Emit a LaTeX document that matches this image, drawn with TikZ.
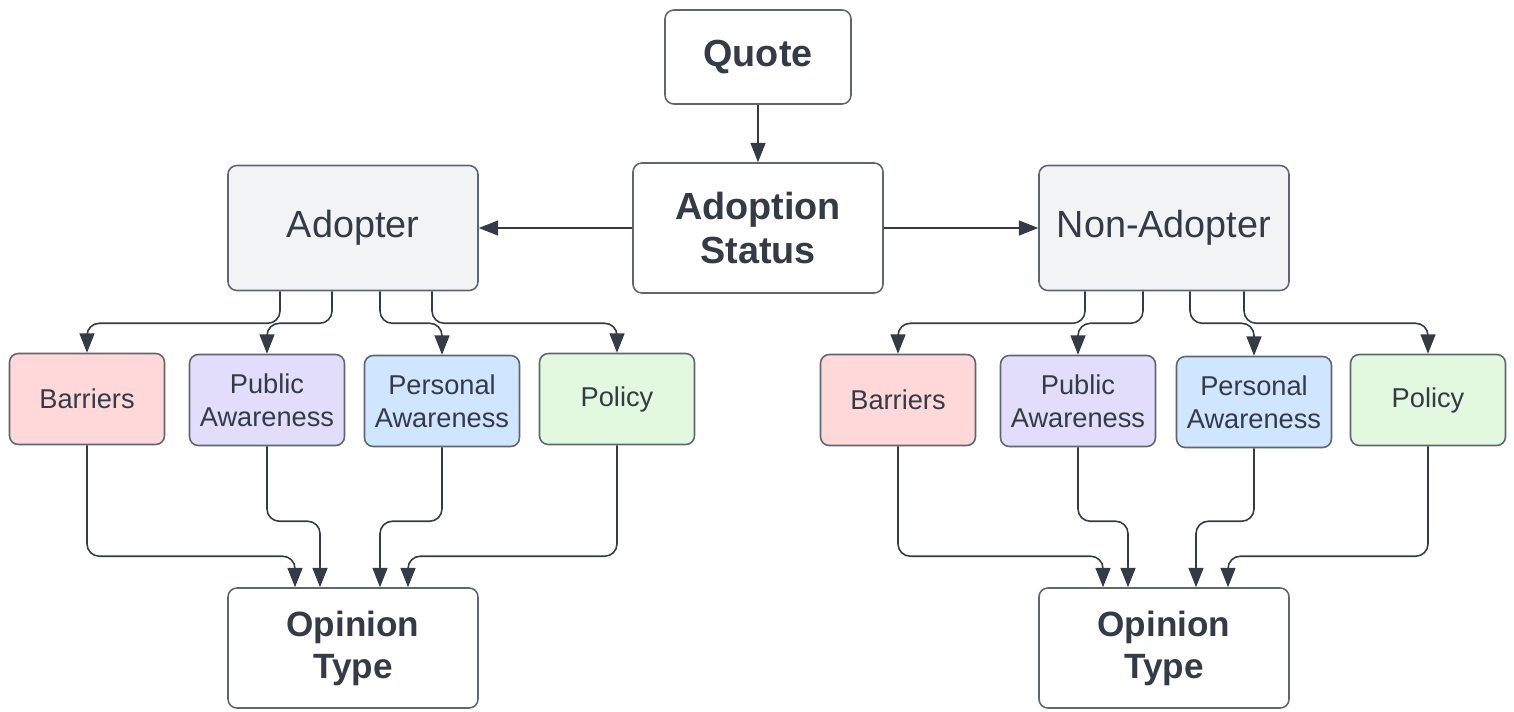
\documentclass[tikz,border=0pt]{standalone}
\usepackage{fontspec}
\setmainfont{Liberation Sans}
\usetikzlibrary{arrows.meta,calc}
\definecolor{edge}{HTML}{60666E}
\definecolor{ink}{HTML}{343B46}
\definecolor{groupfill}{HTML}{F2F3F5}
\definecolor{barrierfill}{HTML}{FFD9D9}
\definecolor{publicfill}{HTML}{E1DDFB}
\definecolor{personalfill}{HTML}{D0E5FF}
\definecolor{policyfill}{HTML}{E2F8DF}
\tikzstyle{mainbox} = [rectangle, rounded corners=5pt, minimum width = 5cm, minimum height=2.5cm, align=center, draw = edge, line width=0.9pt, text=ink, fill=white, font=\fontsize{21.5}{25.5}\selectfont\bfseries]
\tikzstyle{groupbox} = [mainbox, fill = groupfill, font=\fontsize{21.5}{25.5}\selectfont]
\tikzstyle{resultbox} = [mainbox, minimum height=2.4cm, font=\fontsize{20}{24}\selectfont\bfseries]
\tikzstyle{themebox} = [rectangle, rounded corners=5pt, minimum width = 3.1cm, minimum height=1.82cm, align=center, draw = edge, line width=0.9pt, text=ink, font=\fontsize{15.5}{18.7}\selectfont]
\tikzstyle{arrow} = [draw=ink, line width=0.9pt, rounded corners=7pt, -{Triangle[length=11pt,width=8.5pt]}]

\begin{document}
\begin{tikzpicture}[x=0.02cm, y=-0.02cm]
\useasboundingbox (0,0) rectangle (1514,711);

\node(quote) [mainbox, minimum width = 3.72cm, minimum height=1.88cm] at (758,57) {Quote};
\node(status) [mainbox, minimum height=2.6cm] at (758,228) {Adoption\\Status};
\node(adopter) [groupbox] at (353,228) {Adopter};
\node(nonadopter) [groupbox] at (1164,228) {Non-Adopter};

\node(barriersA) [themebox, fill = barrierfill] at (87,399) {Barriers};
\node(publicA)   [themebox, fill = publicfill] at (267,400) {Public\\Awareness};
\node(personalA) [themebox, fill = personalfill] at (442,401) {Personal\\Awareness};
\node(policyA)   [themebox, fill = policyfill] at (617,399) {Policy};

\node(barriersN) [themebox, fill = barrierfill] at (898,400) {Barriers};
\node(publicN)   [themebox, fill = publicfill] at (1078,401) {Public\\Awareness};
\node(personalN) [themebox, fill = personalfill] at (1254,402) {Personal\\Awareness};
\node(policyN)   [themebox, fill = policyfill] at (1428,400) {Policy};

\node(opinionA) [resultbox] at (353,648) {Opinion\\Type};
\node(opinionN) [resultbox] at (1164,648) {Opinion\\Type};

\draw [arrow] (quote) -- (status);
\draw [arrow] (status) -- (adopter);
\draw [arrow] (status) -- (nonadopter);

\draw [arrow] ($(adopter.south)+(-73,0)$) -- ++(0,32) -| (barriersA.north);
\draw [arrow] ($(adopter.south)+(-21,0)$) -- ++(0,32) -| (publicA.north);
\draw [arrow] ($(adopter.south)+(27,0)$) -- ++(0,32) -| (personalA.north);
\draw [arrow] ($(adopter.south)+(79,0)$) -- ++(0,32) -| (policyA.north);

\draw [arrow] ($(nonadopter.south)+(-79,0)$) -- ++(0,32) -| (barriersN.north);
\draw [arrow] ($(nonadopter.south)+(-21,0)$) -- ++(0,32) -| (publicN.north);
\draw [arrow] ($(nonadopter.south)+(26,0)$) -- ++(0,32) -| (personalN.north);
\draw [arrow] ($(nonadopter.south)+(80,0)$) -- ++(0,32) -| (policyN.north);

\draw [arrow] (barriersA.south) |- ($(opinionA.north)+(-58,-31)$) -- ($(opinionA.north)+(-58,0)$);
\draw [arrow] (publicA.south) |- ($(opinionA.north)+(-33,-66)$) -- ($(opinionA.north)+(-33,0)$);
\draw [arrow] (personalA.south) |- ($(opinionA.north)+(27,-66)$) -- ($(opinionA.north)+(27,0)$);
\draw [arrow] (policyA.south) |- ($(opinionA.north)+(55,-31)$) -- ($(opinionA.north)+(55,0)$);

\draw [arrow] (barriersN.south) |- ($(opinionN.north)+(-61,-31)$) -- ($(opinionN.north)+(-61,0)$);
\draw [arrow] (publicN.south) |- ($(opinionN.north)+(-36,-66)$) -- ($(opinionN.north)+(-36,0)$);
\draw [arrow] (personalN.south) |- ($(opinionN.north)+(32,-66)$) -- ($(opinionN.north)+(32,0)$);
\draw [arrow] (policyN.south) |- ($(opinionN.north)+(64,-31)$) -- ($(opinionN.north)+(64,0)$);

\end{tikzpicture}
\end{document}
